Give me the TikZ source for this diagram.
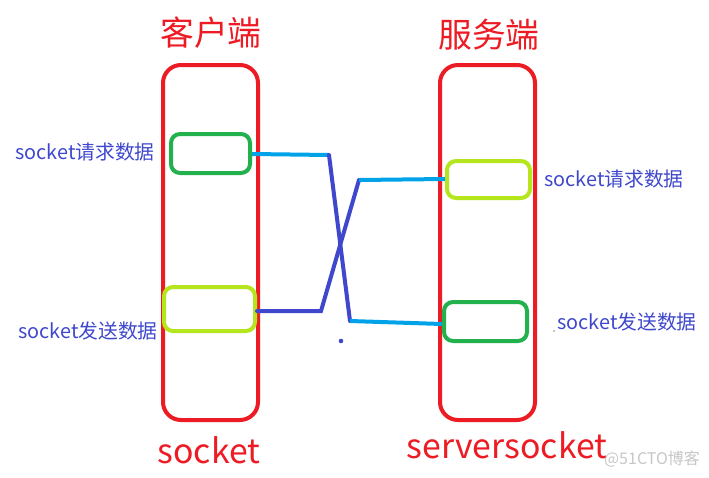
\documentclass[tikz,border=0pt]{standalone}
\usepackage{fontspec}
\setmainfont{Noto Sans CJK SC}
\definecolor{cred}{HTML}{ED1C24}
\definecolor{cgreen}{HTML}{22B14C}
\definecolor{clime}{HTML}{B5E61D}
\definecolor{ccyan}{HTML}{00A2E8}
\definecolor{cblue}{HTML}{3F48CC}
\tikzset{
  outer/.style={draw=cred,line width=4pt,rounded corners=18pt,inner sep=0pt},
  reqbox/.style={line width=4pt,rounded corners=9pt,inner sep=0pt},
  lbl/.style={text=cblue,font=\fontsize{19.8}{20}\selectfont,inner sep=0pt},
  ttl/.style={text=cred,font=\fontsize{33.8}{34}\selectfont,inner sep=0pt},
  cyanline/.style={ccyan,line width=4pt},
  blueline/.style={cblue,line width=4pt},
}
\begin{document}
\begin{tikzpicture}[x=1pt,y=-1pt]
\useasboundingbox[fill=white] (0,0) rectangle (709,477);
% outer boxes
\node[outer,minimum width=95pt,minimum height=355pt] (client) at (210.5,242.5) {};
\node[outer,minimum width=95pt,minimum height=355pt] (server) at (487.5,242.5) {};
% titles
\node[ttl] (tc) at (211,33) {客户端};
\node[ttl] (ts) at (489,35) {服务端};
\node[ttl] (bc) at (209,450) {socket};
\node[ttl] (bs) at (507,445) {serversocket};
% inner boxes
\node[reqbox,draw=cgreen,minimum width=79pt,minimum height=39pt] (creq) at (210.5,153.5) {};
\node[reqbox,draw=clime,minimum width=91pt,minimum height=44pt] (csend) at (209.5,309) {};
\node[reqbox,draw=clime,minimum width=83pt,minimum height=37pt] (sreq) at (488.5,179.5) {};
\node[reqbox,draw=cgreen,minimum width=83pt,minimum height=39pt] (ssend) at (485.5,321.5) {};
% labels
\node[lbl] (l1) at (85,152) {socket请求数据};
\node[lbl] (l2) at (88,331) {socket发送数据};
\node[lbl] (l3) at (614,179) {socket请求数据};
\node[lbl] (l4) at (627,322) {socket发送数据};
% connectors
\coordinate (a1) at (329,155);
\coordinate (a2) at (350,321);
\coordinate (b1) at (321,311);
\coordinate (b2) at (359,180);
\draw[cyanline] (creq.east |- 0,154) -- (a1);
\draw[blueline,line cap=round] (a1) -- (a2);
\draw[cyanline] (a2) -- (ssend.west |- 0,324);
\draw[blueline,line cap=round] (csend.east |- 0,311) -- (b1) -- (b2);
\draw[cyanline] (b2) -- (sreq.west |- 0,179);
% stray dots
\fill[cblue] (341,341) circle (2.3pt);
\fill[black] (554,331) circle (0.7pt);
% watermark
\node[text=black!22,font=\fontsize{16}{16}\selectfont,inner sep=0pt] (wm) at (652,459) {@51CTO博客};
\end{tikzpicture}
\end{document}
